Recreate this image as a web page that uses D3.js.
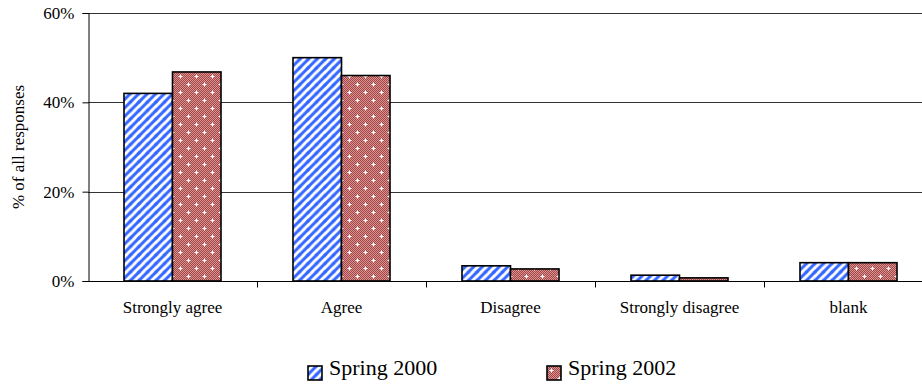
<!DOCTYPE html>
<html>
<head>
<meta charset="utf-8">
<script src="https://cdn.jsdelivr.net/npm/d3@7"></script>
<style>
  body { margin: 0; background: #fff; }
  svg { display: block; font-family: "Liberation Serif", "Times New Roman", serif; }
</style>
</head>
<body>
<svg></svg>
<script>
// chart data
var categories = ['Strongly agree', 'Agree', 'Disagree', 'Strongly disagree', 'blank'];
var seriesNames = ['Spring 2000', 'Spring 2002'];
var spring2000 = [42, 50, 3.4, 1.3, 4.1];
var spring2002 = [46.8, 46, 2.7, 0.7, 4.1];
var yTicks = [0, 20, 40, 60];

var width = 922;
var height = 387;
var serif = '"Liberation Serif", "Times New Roman", serif';

var svg = d3.select('svg')
  .attr('width', width)
  .attr('height', height);

// patterns for the two series
var defs = svg.append('defs');

var stripes = defs.append('pattern')
  .attr('id', 'stripes')
  .attr('patternUnits', 'userSpaceOnUse')
  .attr('width', 8.5)
  .attr('height', 8.5);
stripes.append('rect').attr('width', 8.5).attr('height', 8.5).attr('fill', '#fff');
stripes.append('path')
  .attr('d', 'M-2,2.25 L2.25,-2 M0,8.5 L8.5,0 M6.25,10.5 L10.5,6.25')
  .attr('stroke', '#3366ff')
  .attr('stroke-width', 3);

var dots = defs.append('pattern')
  .attr('id', 'dots')
  .attr('patternUnits', 'userSpaceOnUse')
  .attr('width', 16)
  .attr('height', 16);
dots.append('rect').attr('width', 16).attr('height', 16).attr('fill', '#a94444');
// fine checker, low contrast so it reads as one red tone
for (var i = 0; i < 16; i++) {
  for (var j = 0; j < 16; j++) {
    if ((i + j) % 2 == 0) {
      dots.append('rect').attr('x', i).attr('y', j).attr('width', 1).attr('height', 1).attr('fill', '#d49494');
    }
  }
}
[[4, 4], [12, 12]].forEach(function (p) {
  dots.append('path')
    .attr('d', 'M' + (p[0] - 1.5) + ',' + (p[1] + 0.5) + 'h4 M' + (p[0] + 0.5) + ',' + (p[1] - 1.5) + 'v4')
    .attr('stroke', '#fff')
    .attr('stroke-width', 1);
});

var fills = ['url(#stripes)', 'url(#dots)'];

// scales
var x = d3.scaleBand()
  .domain(categories)
  .range([88, 933])
  .padding(0);

var x1 = d3.scaleBand()
  .domain(seriesNames)
  .range([0, x.bandwidth()])
  .paddingInner(0)
  .paddingOuter(0.742);

var y = d3.scaleLinear()
  .domain([0, 60])
  .range([281, 13]);

// gridlines
svg.append('g')
  .selectAll('line')
  .data(yTicks.slice(1))
  .enter().append('line')
  .attr('x1', 88)
  .attr('x2', width)
  .attr('y1', function (d) { return Math.round(y(d)) + 0.5; })
  .attr('y2', function (d) { return Math.round(y(d)) + 0.5; })
  .attr('stroke', '#333')
  .attr('stroke-width', 1);

// bars
var rows = categories.map(function (c, i) {
  return { cat: c, values: [spring2000[i], spring2002[i]] };
});

var groups = svg.append('g')
  .selectAll('g')
  .data(rows)
  .enter().append('g')
  .attr('transform', function (d) { return 'translate(' + x(d.cat) + ',0)'; });

groups.selectAll('rect')
  .data(function (d) { return d.values.map(function (v, k) { return { name: seriesNames[k], value: v, k: k }; }); })
  .enter().append('rect')
  .attr('x', function (d) { return x1(d.name); })
  .attr('width', x1.bandwidth())
  .attr('y', function (d) { return y(d.value); })
  .attr('height', function (d) { return y(0) - y(d.value); })
  .attr('fill', function (d) { return fills[d.k]; })
  .attr('stroke', '#000')
  .attr('stroke-width', 1.6);

// y axis
var yAxis = d3.axisLeft(y)
  .tickValues(yTicks)
  .tickSize(6)
  .tickFormat(function (d) { return d + '%'; });

var yg = svg.append('g')
  .attr('transform', 'translate(88.5,0)')
  .call(yAxis)
  .attr('font-family', serif)
  .attr('font-size', 17);
yg.select('.domain').attr('stroke', '#000');
yg.selectAll('.tick line').attr('stroke', '#000');
yg.selectAll('.tick text')
  .attr('fill', '#000')
  .attr('x', -14);

// x axis
var xAxis = d3.axisBottom(x)
  .tickSize(0)
  .tickPadding(0);

var xg = svg.append('g')
  .attr('transform', 'translate(0,' + (Math.round(y(0)) + 0.5) + ')')
  .call(xAxis)
  .attr('font-family', serif)
  .attr('font-size', 17);
xg.select('.domain').attr('stroke', '#000').attr('d', 'M88,0H' + width);
xg.selectAll('.tick text')
  .attr('fill', '#000')
  .attr('dy', null)
  .attr('y', 31);

// tick marks between categories
xg.append('g')
  .selectAll('line')
  .data(categories.slice(1))
  .enter().append('line')
  .attr('x1', function (d) { return Math.round(x(d)) + 0.5; })
  .attr('x2', function (d) { return Math.round(x(d)) + 0.5; })
  .attr('y1', 0)
  .attr('y2', 6)
  .attr('stroke', '#000');

// y axis title
svg.append('text')
  .attr('transform', 'translate(24,' + (y(0) + y(60)) / 2 + ') rotate(-90)')
  .attr('text-anchor', 'middle')
  .attr('font-size', 17)
  .text('% of all responses');

// legend
var legendX = [308, 547];
var legend = svg.append('g')
  .selectAll('g')
  .data(seriesNames)
  .enter().append('g')
  .attr('transform', function (d, i) { return 'translate(' + legendX[i] + ',366)'; });

legend.append('rect')
  .attr('width', 14)
  .attr('height', 14)
  .attr('fill', function (d, i) { return fills[i]; })
  .attr('stroke', '#000')
  .attr('stroke-width', 1.6);

legend.append('text')
  .attr('x', 21)
  .attr('y', 9)
  .attr('font-size', 22)
  .text(function (d) { return d; });
</script>
</body>
</html>
